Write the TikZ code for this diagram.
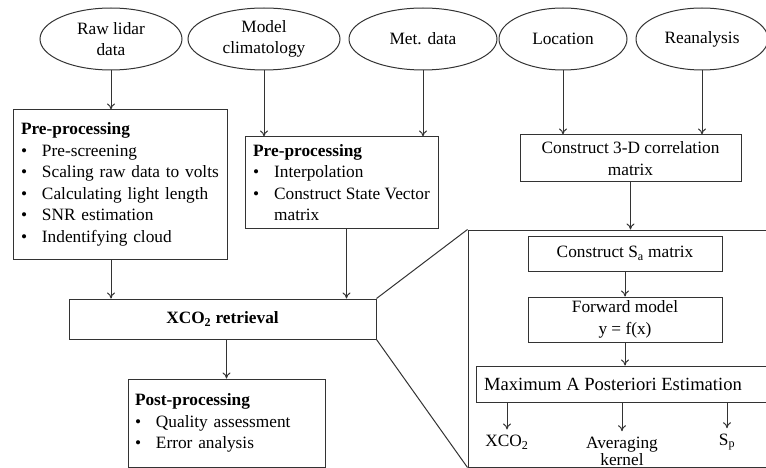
\documentclass[tikz,border=0pt]{standalone}
\usepackage{fontspec}
\setmainfont{Liberation Serif}
\usetikzlibrary{shapes.geometric,arrows.meta,positioning}
\newcommand{\itm}{\makebox[21pt][l]{\textbullet}}

\begin{document}
\begin{tikzpicture}[x=1pt,y=-1pt,
    font=\fontsize{17.3pt}{21.5pt}\selectfont,
    line width=1pt,
    src/.style={ellipse, draw=black!80, minimum height=62pt, inner sep=0pt, align=center},
    proc/.style={rectangle, draw=black!80, inner sep=0pt},
    arr/.style={-{To[length=6pt,width=8pt]}, draw=black!80}]
    \useasboundingbox (0,0) rectangle (766,468);

    \node[src, minimum width=142pt] (raw) at (111,39) {Raw lidar\\data};
    \node[src, minimum width=152pt] (clim) at (264,39) {Model\\climatology};
    \node[src, minimum width=148pt] (met) at (423,39) {Met. data};
    \node[src, minimum width=128pt] (loc) at (563,39) {Location};
    \node[src, minimum width=132pt] (rean) at (702,39) {Reanalysis};

    \node[proc, minimum width=214pt, minimum height=149pt, text width=198pt, inner xsep=8pt, align=left] (pre1) at (120,184.5)
        {\textbf{Pre-processing}\\\itm Pre-screening\\\itm Scaling raw data to volts\\\itm Calculating light length\\\itm SNR estimation\\\itm Indentifying cloud};
    \node[proc, minimum width=193pt, minimum height=91pt, align=left] (pre2) at (341.5,182.5)
        {\textbf{Pre-processing}\\\itm Interpolation\\\itm Construct State Vector\\\hspace*{21pt}matrix};
    \node[proc, minimum width=221pt, minimum height=47pt, align=center] (corr) at (630.5,158.5) {Construct 3-D correlation\\matrix};

    \node[proc, minimum width=307pt, minimum height=40pt] (ret) at (222.5,319) {\textbf{XCO\textsubscript{2} retrieval}};
    \node[proc, minimum width=197pt, minimum height=88pt, text width=183pt, inner xsep=7pt, align=left] (post) at (226.5,423)
        {\textbf{Post-processing}\\\itm Quality assessment\\\itm Error analysis};

    \node[proc, minimum width=299pt, minimum height=237pt] (zoom) at (617.5,348.5) {};
    \node[proc, minimum width=194pt, minimum height=35pt] (sa) at (625,253.5) {Construct S\textsubscript{a} matrix};
    \node[proc, minimum width=194pt, minimum height=45pt, align=center] (fwd) at (625,319.5) {Forward model\\y = f(x)};
    \node[proc, minimum width=291pt, minimum height=36pt, font=\fontsize{18.6pt}{21.5pt}\selectfont] (map) at (621.5,384) {Maximum A Posteriori Estimation\hspace*{17pt}};
    \node[inner sep=5pt] (o1) at (507,442) {XCO\textsubscript{2}};
    \node[inner sep=5pt, align=center, font=\fontsize{17.3pt}{17pt}\selectfont] (o2) at (622,451) {Averaging\\kernel};
    \node[inner sep=5pt] (o3) at (727,442) {S\textsubscript{p}};

    \draw[arr] (raw.south) -- (raw.south |- pre1.north);
    \draw[arr] (clim.south) -- (clim.south |- pre2.north);
    \draw[arr] (met.south) -- (met.south |- pre2.north);
    \draw[arr] (loc.south) -- (loc.south |- corr.north);
    \draw[arr] (rean.south) -- (rean.south |- corr.north);
    \draw[arr] (corr.south) -- (corr.south |- zoom.north);
    \draw[arr] (raw.south |- pre1.south) -- (raw.south |- ret.north);
    \draw[arr] ([xshift=5pt]pre2.south) -- ([xshift=5pt]pre2.south |- ret.north);
    \draw[arr] (post.north |- ret.south) -- (post.north);
    \draw[black!80] (ret.north east) -- (zoom.north west);
    \draw[black!80] (ret.south east) -- (zoom.south west);
    \draw[arr] (sa.south) -- (fwd.north);
    \draw[arr] (fwd.south) -- (fwd.south |- map.north);
    \draw[arr] (map.south -| o1.north) -- (o1.north);
    \draw[arr] (map.south -| o2.north) -- (o2.north);
    \draw[arr] (map.south -| o3.north) -- (o3.north);
\end{tikzpicture}
\end{document}
